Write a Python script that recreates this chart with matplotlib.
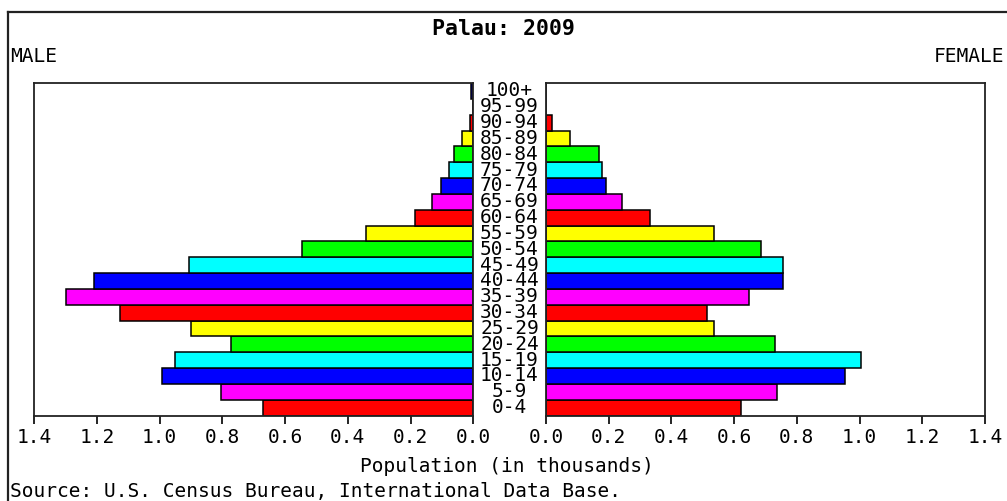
import matplotlib
matplotlib.use("Agg")
import matplotlib.pyplot as plt
from matplotlib.lines import Line2D

age_groups = ["0-4", "5-9", "10-14", "15-19", "20-24", "25-29", "30-34", "35-39",
              "40-44", "45-49", "50-54", "55-59", "60-64", "65-69", "70-74", "75-79",
              "80-84", "85-89", "90-94", "95-99", "100+"]
male = [0.671, 0.805, 0.992, 0.951, 0.772, 0.900, 1.126, 1.298, 1.209, 0.907, 0.547,
        0.343, 0.185, 0.133, 0.102, 0.077, 0.063, 0.037, 0.012, 0.001, 0.006]
female = [0.621, 0.736, 0.955, 1.005, 0.731, 0.537, 0.512, 0.646, 0.755, 0.755, 0.685,
          0.537, 0.333, 0.243, 0.192, 0.180, 0.168, 0.077, 0.019, 0.0, 0.0]
palette = ["#ff0000", "#ff00ff", "#0000ff", "#00ffff", "#00ff00", "#ffff00"]
xticks = [0.0, 0.2, 0.4, 0.6, 0.8, 1.0, 1.2, 1.4]
title = "Palau: 2009"
xlabel = "Population (in thousands)"
source = "Source: U.S. Census Bureau, International Data Base."

colors = [palette[i % len(palette)] for i in range(len(age_groups))]
mono = "DejaVu Sans Mono"
W, H = 1007, 501
fig = plt.figure(figsize=(W / 100, H / 100), dpi=100)

def fx(px):
    return px / W

def fy(py):
    return 1 - py / H

bottom = fy(415.5)
height = (415.5 - 83) / H
axL = fig.add_axes([fx(34), bottom, fx(473.3 - 34), height])
axR = fig.add_axes([fx(546), bottom, fx(985 - 546), height])
ypos = list(range(len(age_groups)))

for ax, vals in ((axL, male), (axR, female)):
    ax.barh(ypos, vals, height=1.0, color=colors, edgecolor="black", linewidth=1.1)
    ax.set_xlim(0, 1.4)
    ax.set_ylim(-0.5, len(age_groups) - 0.5)
    ax.set_yticks([])
    ax.set_xticks(xticks)
    ax.set_xticklabels([f"{t:.1f}" for t in xticks], fontfamily=mono, fontsize=14)
    ax.tick_params(axis="x", direction="out", length=6, width=1.2, pad=3)
    for s in ax.spines.values():
        s.set_linewidth(1.3)
        s.set_color("#222222")
axL.invert_xaxis()

for i, lab in enumerate(age_groups):
    y = axL.transData.transform((0, i))[1]
    fig.text(fx(509.5), y / fig.dpi / fig.get_figheight(), lab, ha="center", va="center",
             fontfamily=mono, fontsize=14)

fig.text(0.5, fy(29), title, ha="center", va="center", fontfamily=mono,
         fontsize=15.5, fontweight="bold")
fig.text(fx(10), fy(57), "MALE", ha="left", va="center", fontfamily=mono, fontsize=14)
fig.text(fx(1004), fy(57), "FEMALE", ha="right", va="center", fontfamily=mono, fontsize=14)
fig.text(fx(507), fy(466), xlabel, ha="center", va="center", fontfamily=mono, fontsize=14)
fig.text(fx(10), fy(492), source, ha="left", va="center", fontfamily=mono, fontsize=14)

fig.add_artist(Line2D([fx(8), 1.0], [fy(12), fy(12)], color="#222222", linewidth=1.6,
                      transform=fig.transFigure))
fig.add_artist(Line2D([fx(8), fx(8)], [fy(12), 0.0], color="#222222", linewidth=1.6,
                      transform=fig.transFigure))

fig.savefig("out.png", dpi=100)
